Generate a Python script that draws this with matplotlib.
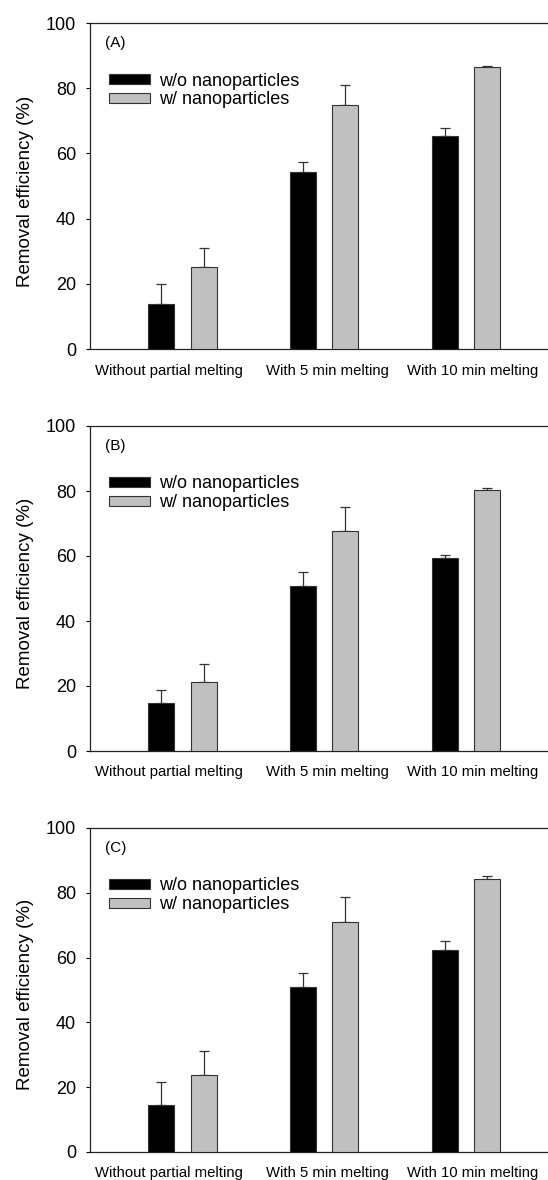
import numpy as np
import matplotlib.pyplot as plt
from matplotlib.transforms import blended_transform_factory

plt.rcParams['font.family'] = ['Liberation Sans', 'DejaVu Sans']

categories = ['Without partial melting', 'With 5 min melting', 'With 10 min melting']
series_names = ['w/o nanoparticles', 'w/ nanoparticles']
panel_tags = ['(A)', '(B)', '(C)']

# bar heights (mean) and upper error lengths, per panel
a_without = [13.8, 54.3, 65.4]
a_without_err = [6.0, 3.1, 2.4]
a_with = [25.2, 74.7, 86.5]
a_with_err = [5.8, 6.4, 0.3]

b_without = [14.7, 50.8, 59.3]
b_without_err = [4.2, 4.4, 0.9]
b_with = [21.1, 67.6, 80.4]
b_with_err = [5.7, 7.5, 0.6]

c_without = [14.4, 50.9, 62.3]
c_without_err = [7.1, 4.3, 2.8]
c_with = [23.7, 71.1, 84.4]
c_with_err = [7.5, 7.5, 0.8]

panels = [
    (a_without, a_without_err, a_with, a_with_err),
    (b_without, b_without_err, b_with, b_with_err),
    (c_without, c_without_err, c_with, c_with_err),
]

W, H = 548, 1180
fig = plt.figure(figsize=(W / 100, H / 100), dpi=100)

left = 90 / W
tops = [23, 426, 828]
bottoms = [349, 751, 1152]

x = np.arange(len(categories))
bw = 0.183
off = 0.15
edge = '#333333'
label_shift = [-0.095, 0.02, 0.047]  # labels in the source sit a bit off-centre

for k, (wo, wo_e, wi, wi_e) in enumerate(panels):
    ax = fig.add_axes([left, 1 - bottoms[k] / H, 1 - left, (bottoms[k] - tops[k]) / H])
    ax.bar(x - off, wo, bw, color='black', edgecolor=edge, linewidth=0.8,
           label=series_names[0], zorder=3)
    ax.bar(x + off, wi, bw, color='#c0c0c0', edgecolor=edge, linewidth=0.8,
           label=series_names[1], zorder=3)
    ax.errorbar(x - off, wo, yerr=[np.zeros(3), wo_e], fmt='none', ecolor=edge,
                elinewidth=0.9, capsize=3.9, capthick=0.9, zorder=2)
    ax.errorbar(x + off, wi, yerr=[np.zeros(3), wi_e], fmt='none', ecolor=edge,
                elinewidth=0.9, capsize=3.9, capthick=0.9, zorder=2)

    ax.set_xlim(-0.653, 2.58)
    ax.set_ylim(0, 100)
    ax.set_yticks(range(0, 101, 20))
    ax.tick_params(axis='y', direction='out', length=3, width=0.8, labelsize=13, pad=7)
    ax.set_xticks([])
    trans = blended_transform_factory(ax.transData, ax.transAxes)
    for i, name in enumerate(categories):
        ax.text(x[i] + label_shift[i], -0.066, name, transform=trans,
                ha='center', va='center', fontsize=10.7)
    ax.spines['right'].set_visible(False)
    for s in ['top', 'left', 'bottom']:
        ax.spines[s].set_linewidth(0.9)
        ax.spines[s].set_color('#222222')
    ax.set_ylabel('Removal efficiency (%)', fontsize=13.5)
    ax.yaxis.set_label_coords(-0.122, 0.485)
    ax.text(0.033, 0.939, panel_tags[k], transform=ax.transAxes, fontsize=11,
            va='center', ha='left')
    ax.legend(loc='upper left', bbox_to_anchor=(0.042, 0.848), frameon=False,
              fontsize=13, handlelength=2.28, handleheight=0.46,
              handletextpad=0.5, labelspacing=0.1, borderaxespad=0, borderpad=0)

fig.savefig('out.png', dpi=100)
